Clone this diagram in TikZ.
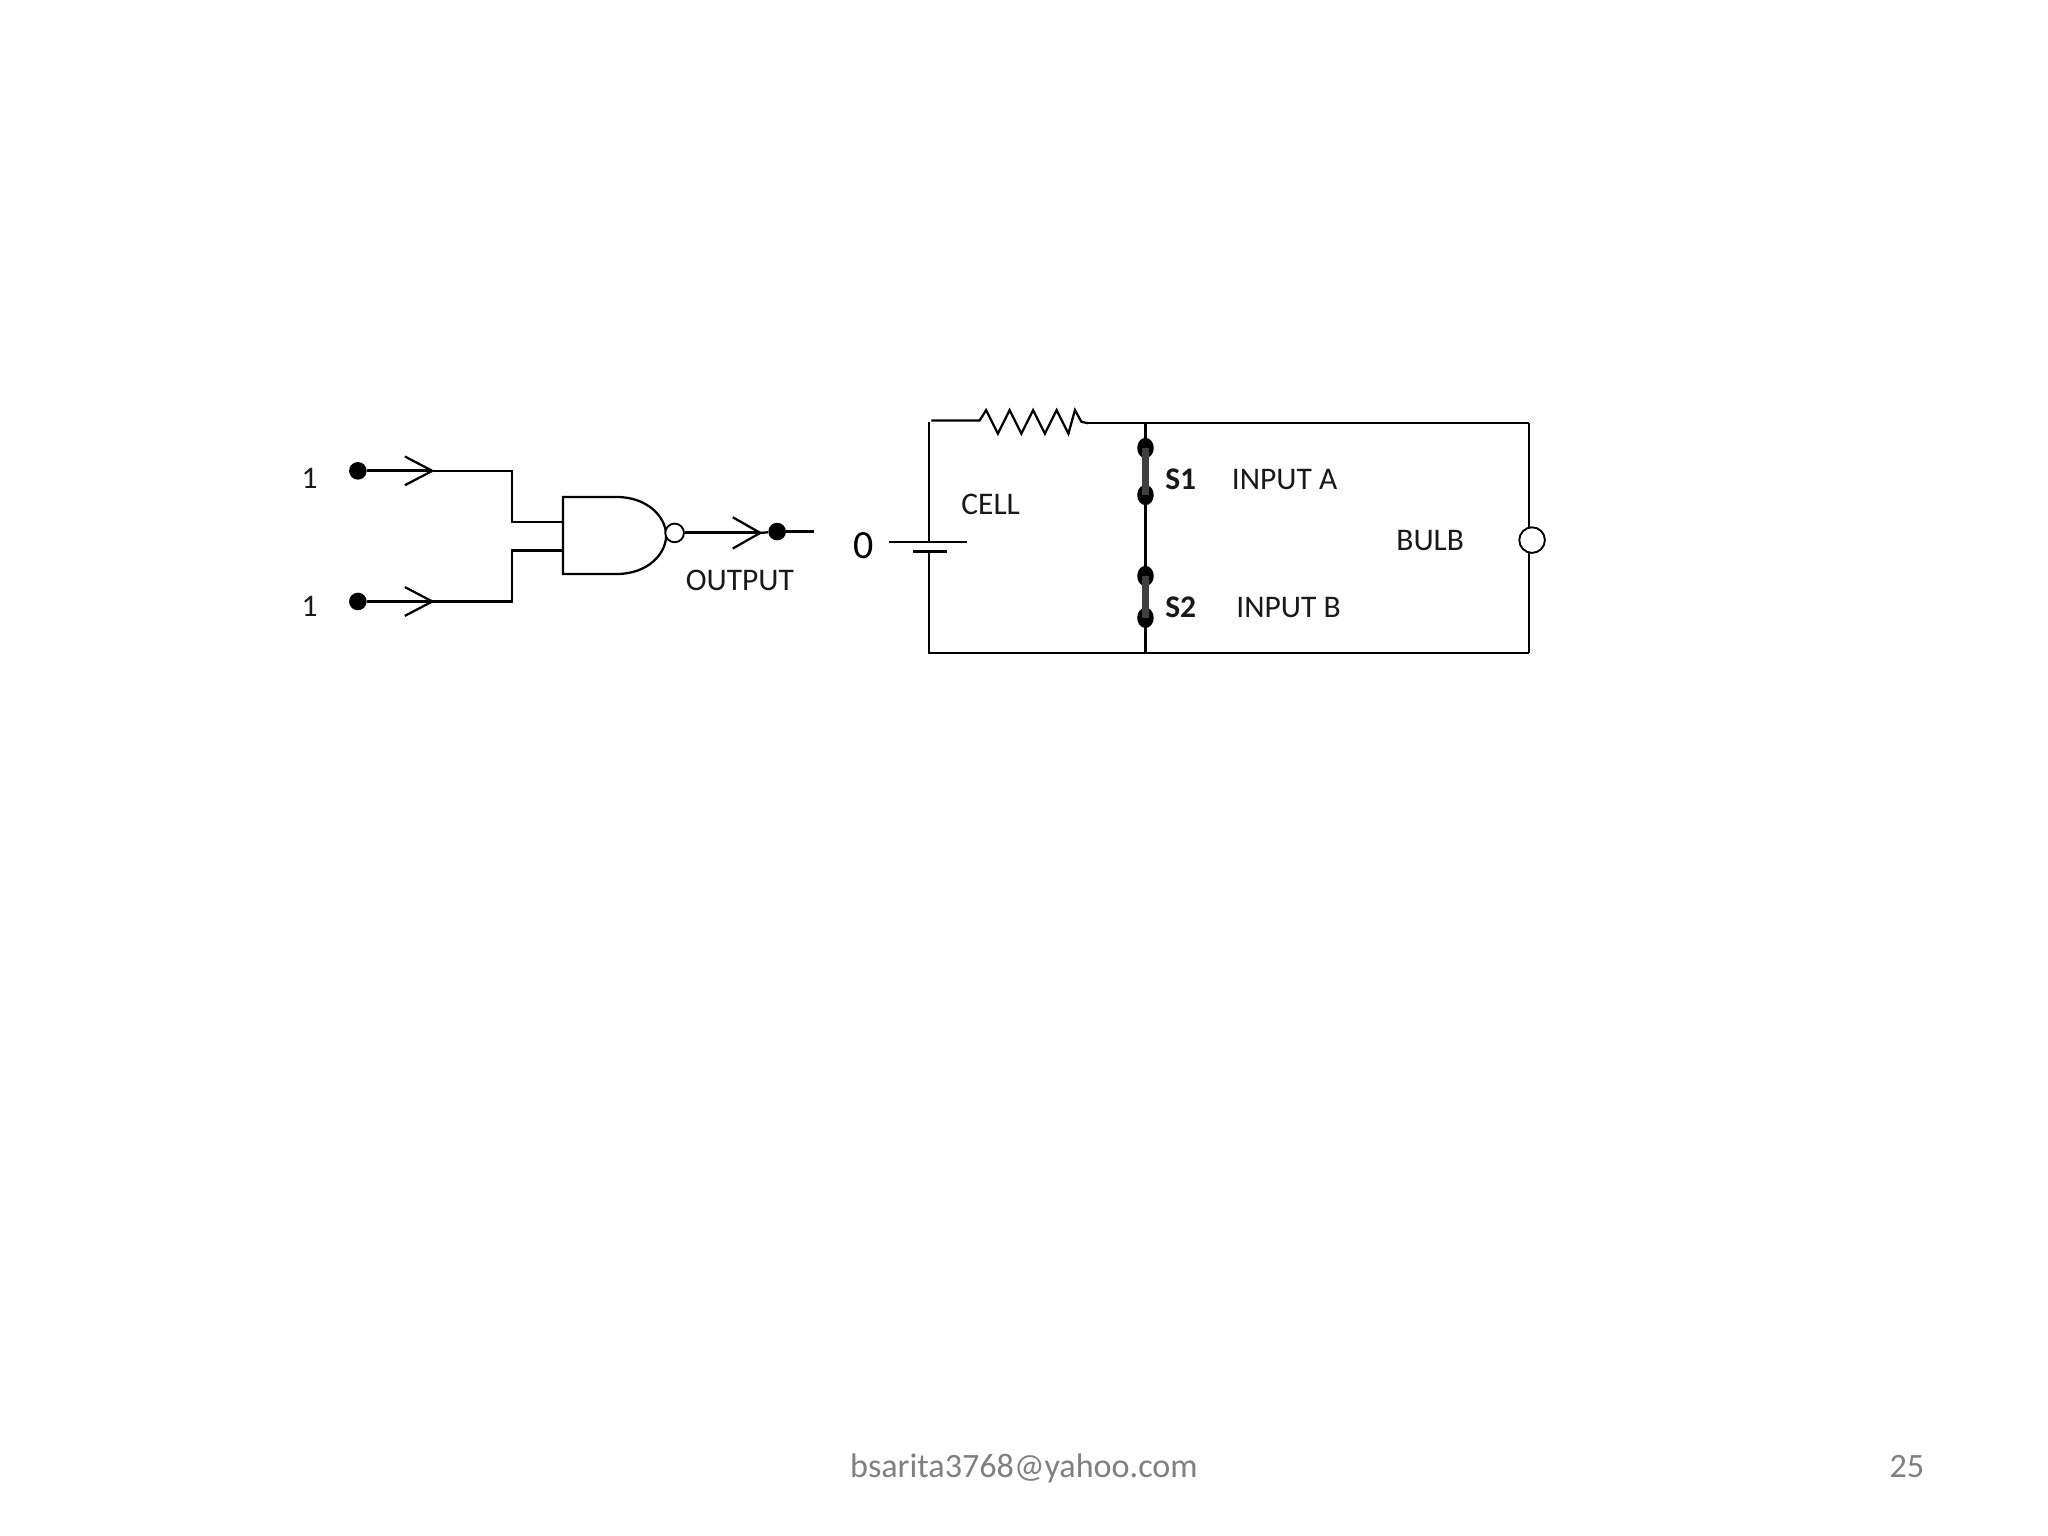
\documentclass[tikz,border=0pt]{standalone}
\usepackage{fontspec}
\setmainfont{Carlito}
\usetikzlibrary{positioning,shapes.geometric}
\tikzset{
  wire/.style={draw=black,line width=0.85pt},
  thickwire/.style={draw=black,line width=1.15pt},
  sw/.style={draw=black!75,line width=2.4pt},
  pin/.style={circle,fill=black,inner sep=0pt,minimum size=6.6pt},
  swpin/.style={ellipse,fill=black,inner sep=0pt,minimum width=6.2pt,minimum height=7.6pt},
  hollow/.style={circle,draw=black,fill=white,line width=0.7pt,inner sep=0pt},
  lab/.style={font=\fontsize{11.8pt}{13pt}\selectfont,inner sep=0pt,text=black!90},
  labb/.style={font=\fontsize{11.8pt}{13pt}\selectfont\bfseries,inner sep=0pt,text=black!90},
  foot/.style={font=\fontsize{12.8pt}{14pt}\selectfont,inner sep=0pt,text=black!50},
}
\begin{document}
\begin{tikzpicture}[x=0.4898pt,y=-0.4898pt]
\useasboundingbox[fill=white] (0,0) rectangle (1568,1176);
% gate inputs
\node[pin] (ia) at (274,360.5) {};
\node[pin] (ib) at (274,460.5) {};
\coordinate (ta) at (331,360.5);
\coordinate (tb) at (331,460.5);
\coordinate (ga) at (431,399.5);
\coordinate (gb) at (431,421.5);
\draw[thickwire] (ia) -- (ta);
\draw[thickwire] (ib) -- (tb);
\draw[wire] (310,349.5) -- (ta) -- (310,371.5);
\draw[wire] (310,449.5) -- (tb) -- (310,471.5);
\draw[wire] (ta) -- (392,360.5) -- (392,399.5) -- (ga);
\draw[wire] (tb) -- (392,460.5) -- (392,421.5) -- (gb);
% NAND
\draw[wire,line join=miter] (431,380.5) -- (472,380.5) .. controls (496,380.5) and (510,396) .. (510,410) .. controls (510,424) and (496,439.5) .. (472,439.5) -- (431,439.5) -- cycle;
\node[hollow,minimum size=7pt] (bub) at (516.5,408) {};
\node[pin] (out) at (595,407) {};
\coordinate (to) at (582,408);
\coordinate (oe) at (623,407);
\draw[thickwire] (bub) -- (to);
\draw[wire] (561,396) -- (to) -- (561,420);
\draw[wire] (to) -- (out);
\draw[wire] (out) -- (oe);
% labels left
\node[lab] (l1) at (237,366) {1};
\node[lab] (l2) at (237,464) {1};
\node[lab] (lo) at (566.5,444) {OUTPUT};
\node[font=\fontsize{15pt}{17pt}\selectfont,inner sep=0pt] (l0) at (661,418) {0};
% circuit
\coordinate (tl) at (711,323);
\coordinate (bl) at (711,500);
\coordinate (br) at (1170.5,500);
\coordinate (tr) at (1170.5,324);
\coordinate (tm) at (877,324);
\coordinate (bm) at (877,500);
\coordinate (ca) at (711,415);
\coordinate (cb) at (711,422);
\draw[wire] (tl) -- (ca);
\draw[wire] (cb) -- (bl) -- (br);
\draw[wire] (681,415) -- (740,415);
\draw[thickwire] (699,422) -- (725,422);
\draw[wire] (713,322) -- (750,322) -- (755,314) -- (764,332) -- (773,314) -- (782,332) -- (791,314) -- (800,332) -- (809,314) -- (818,332) -- (823,314) -- (828,323) -- (833,324);
\draw[wire] (833,324) -- (tr);
\node[hollow,minimum size=9.6pt] (bulb) at (1173,413.5) {};
\draw[wire] (tr) -- (1170.5,403.5);
\draw[wire] (1170.5,423.5) -- (br);
\draw[wire] (tm) -- (bm);
\node[swpin] (s1a) at (877,343) {};
\node[swpin] (s1b) at (877,379) {};
\node[swpin] (s2a) at (877,441) {};
\node[swpin] (s2b) at (877,473) {};
\draw[sw] (s1a.center) -- (s1b.center);
\draw[sw] (s2a.center) -- (s2b.center);
\node[labb] (s1) at (904,367) {S1};
\node[labb] (s2) at (904,465) {S2};
\node[lab] (ina) at (983.5,367) {INPUT A};
\node[lab] (inb) at (986.5,465) {INPUT B};
\node[lab] (cell) at (758.5,386) {CELL};
\node[lab] (bl2) at (1095,414) {BULB};
% footer
\node[foot] (mail) at (784,1124) {bsarita3768@yahoo.com};
\node[foot] (num) at (1460,1122.5) {25};
\end{tikzpicture}
\end{document}
